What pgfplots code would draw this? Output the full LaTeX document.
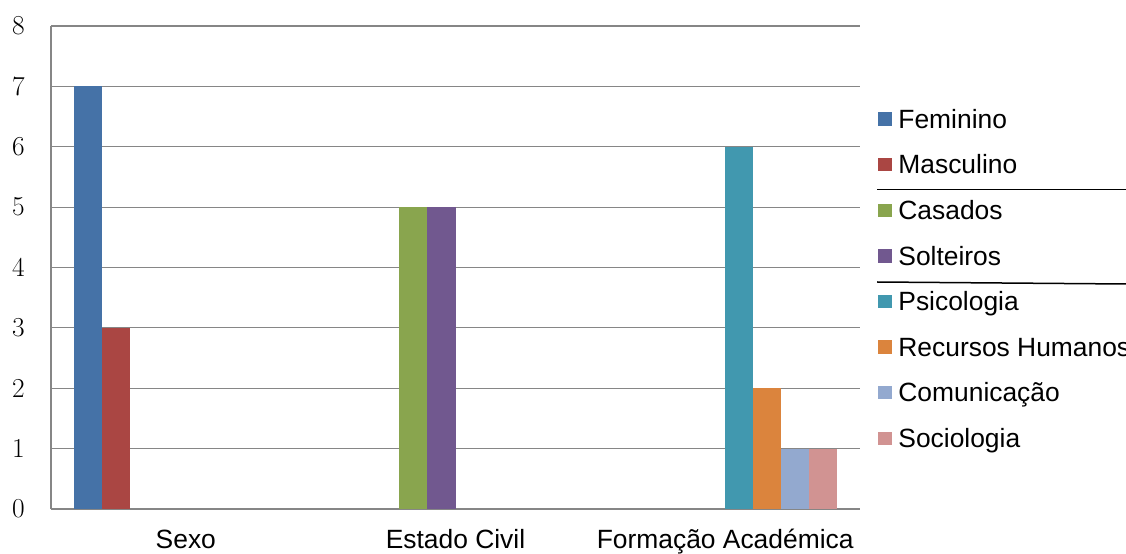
\documentclass[border=0pt]{standalone}
\usepackage{fontspec}
\setsansfont{Liberation Sans}
\usepackage{pgfplots}
\pgfplotsset{compat=1.18}
\definecolor{cFem}{HTML}{4572A7}
\definecolor{cMas}{HTML}{AA4643}
\definecolor{cCas}{HTML}{89A54E}
\definecolor{cSol}{HTML}{71588F}
\definecolor{cPsi}{HTML}{4198AF}
\definecolor{cRec}{HTML}{DB843D}
\definecolor{cCom}{HTML}{93A9CF}
\definecolor{cSoc}{HTML}{D19392}
\definecolor{gridc}{HTML}{868686}
\begin{document}
\begin{tikzpicture}
\useasboundingbox (0,0) rectangle (1126bp,554bp);
\clip (0,0) rectangle (1126bp,554bp);
\begin{axis}[
  at={(51bp,45bp)}, anchor=south west,
  scale only axis, width=809bp, height=483bp,
  xmin=-0.5, xmax=2.5, ymin=0, ymax=8,
  ybar, bar width=0.104,
  xtick={0,1,2},
  xticklabels={Sexo,Estado Civil,Formação Académica},
  ytick={0,1,2,3,4,5,6,7,8},
  major tick length=0pt,
  axis x line*=bottom, axis y line*=left,
  axis line style={draw=gridc, line width=1.2bp, -},
  ymajorgrids, grid style={draw=gridc, line width=1.2bp},
  /pgf/number format/assume math mode=true,
  yticklabel style={font=\rmfamily\fontsize{27.5}{32}\selectfont, anchor=east, inner sep=0pt, xshift=-26bp},
  xticklabel style={font=\sffamily\fontsize{26.5}{31}\selectfont, anchor=north, inner sep=0pt, text height=19bp, text depth=6bp, yshift=-20bp},
  legend cell align=left,
  legend image code/.code={\fill[#1] (0bp,-4bp) rectangle (13.5bp,9.5bp);},
  legend style={at={(1.0225,0.8257)}, anchor=north west, draw=none, fill=none,
    inner sep=0pt, row sep=22.6bp,
    font=\sffamily\fontsize{26.5}{31}\selectfont,
    nodes={inner sep=0pt, text height=18bp, text depth=5bp},
    /tikz/every odd column/.style={column sep=6.5bp}},
]
\addplot[fill=cFem, draw=none, bar shift=-0.364] coordinates {(0,7)};
\addplot[fill=cMas, draw=none, bar shift=-0.26] coordinates {(0,3)};
\addplot[fill=cCas, draw=none, bar shift=-0.156] coordinates {(1,5)};
\addplot[fill=cSol, draw=none, bar shift=-0.052] coordinates {(1,5)};
\addplot[fill=cPsi, draw=none, bar shift=0.052] coordinates {(2,6)};
\addplot[fill=cRec, draw=none, bar shift=0.156] coordinates {(2,2)};
\addplot[fill=cCom, draw=none, bar shift=0.26] coordinates {(2,1)};
\addplot[fill=cSoc, draw=none, bar shift=0.364] coordinates {(2,1)};
\legend{Feminino,Masculino,Casados,Solteiros,Psicologia,Recursos Humanos,Comunicação,Sociologia}
\end{axis}
\draw[black, line width=1bp] (877bp,364bp) -- (1126bp,364bp);
\draw[black, line width=1.5bp] (877bp,272bp) -- (1126bp,270bp);
\end{tikzpicture}
\end{document}
